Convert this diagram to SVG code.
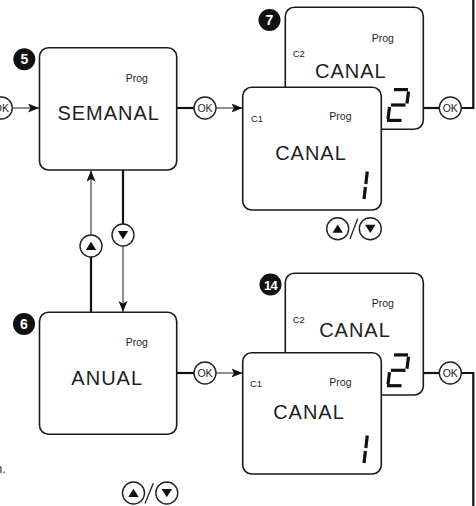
<svg xmlns="http://www.w3.org/2000/svg" xmlns:xlink="http://www.w3.org/1999/xlink" width="476" height="506" viewBox="0 0 476 506">
<style>
.box{fill:#fff;stroke:#1a1a1a;stroke-width:1.6}
.thick{stroke:#111;stroke-width:2.2;fill:none}
.thin{stroke:#333;stroke-width:1.1;fill:none}
.okc{fill:#fff;stroke:#222;stroke-width:1.4}
text{font-family:"Liberation Sans",Arial,sans-serif;fill:#1e1e1e}
.ok{font-size:10.5px;text-anchor:middle}
.big{font-size:20px;letter-spacing:1px;text-anchor:middle}
.prog{font-size:10.5px}
.ch{font-size:9.5px}
.badge{fill:#111}
.bt{font-size:14px;font-weight:bold;fill:#fff;text-anchor:middle}
.seg{stroke:#111;stroke-width:3.2;fill:none}
</style>
<defs>
<marker id="arr" markerUnits="userSpaceOnUse" markerWidth="12" markerHeight="10" refX="11" refY="4.5" orient="auto">
<path d="M0,0 L11,4.5 L0,9 L2.5,4.5 z" fill="#111"/>
</marker>
<g id="up"><circle r="11" class="okc"/><path d="M-5.2,4 L5.2,4 L0,-4.3 z" fill="#111"/></g>
<g id="down"><circle r="11" class="okc"/><path d="M-5.2,-4 L5.2,-4 L0,4.3 z" fill="#111"/></g>
<g id="d2" class="seg">
<line x1="9" y1="1.6" x2="23" y2="1.6"/>
<line x1="23.5" y1="3.5" x2="22" y2="15.5"/>
<line x1="6" y1="17" x2="20.5" y2="17"/>
<line x1="4.5" y1="19" x2="3" y2="31"/>
<line x1="2" y1="32.4" x2="16.5" y2="32.4"/>
</g>
<g id="d1" class="seg">
<line x1="3.5" y1="1" x2="2" y2="13.5"/>
<line x1="1.6" y1="16.5" x2="0.2" y2="28.5"/>
</g>
</defs>

<g id="connectors">
<circle cx="1.3" cy="108" r="11" class="okc"/>
<text x="1.3" y="111.8" class="ok">OK</text>
<line x1="12.3" y1="108" x2="39" y2="108" class="thin" marker-end="url(#arr)"/>
<line x1="177" y1="108" x2="194" y2="108" class="thick"/>
<circle cx="205" cy="108" r="11" class="okc"/>
<text x="205" y="111.8" class="ok">OK</text>
<line x1="216" y1="108" x2="242.5" y2="108" class="thin" marker-end="url(#arr)"/>
<line x1="91" y1="234.5" x2="91" y2="170.5" class="thin" marker-end="url(#arr)"/>
<line x1="91" y1="257" x2="91" y2="312" class="thick"/>
<use xlink:href="#up" x="91" y="246"/>
<line x1="123" y1="170" x2="123" y2="224" class="thick"/>
<line x1="123" y1="246" x2="123" y2="312" class="thin" marker-end="url(#arr)"/>
<use xlink:href="#down" x="123" y="235"/>
<line x1="177" y1="373" x2="194" y2="373" class="thick"/>
<circle cx="205" cy="373" r="11" class="okc"/>
<text x="205" y="376.8" class="ok">OK</text>
<line x1="216" y1="373" x2="242.5" y2="373" class="thin" marker-end="url(#arr)"/>
<polyline points="423,108 439.3,108" class="thick"/>
<polyline points="461.3,108 473.3,108 473.3,0" class="thick"/>
<circle cx="450.3" cy="108" r="11" class="okc"/>
<text x="450.3" y="111.8" class="ok">OK</text>
<polyline points="423,373 439.3,373" class="thick"/>
<polyline points="461.3,373 473.3,373 473.3,506" class="thick"/>
<circle cx="450.3" cy="373" r="11" class="okc"/>
<text x="450.3" y="376.8" class="ok">OK</text>
<use xlink:href="#up" x="337.7" y="228.8"/>
<line x1="350" y1="239" x2="357.7" y2="218.5" stroke="#222" stroke-width="1.3"/>
<use xlink:href="#down" x="370.3" y="228.8"/>
<use xlink:href="#up" x="133.5" y="493"/>
<line x1="145" y1="503.5" x2="153.3" y2="483.3" stroke="#222" stroke-width="1.3"/>
<use xlink:href="#down" x="166.8" y="493"/>
</g>

<g id="semanal">
<rect x="39.5" y="47.8" width="137.2" height="122.2" rx="9" class="box"/>
<text x="125.7" y="82" class="prog">Prog</text>
<text x="108.7" y="120" class="big">SEMANAL</text>
<circle cx="24.3" cy="59.3" r="11" class="badge"/>
<text x="24.3" y="64.3" class="bt">5</text>
</g>

<g id="anual">
<rect x="39.5" y="312.3" width="137.2" height="122" rx="9" class="box"/>
<text x="125.7" y="346" class="prog">Prog</text>
<text x="107.2" y="385" class="big">ANUAL</text>
<circle cx="24" cy="324" r="11" class="badge"/>
<text x="24" y="329" class="bt">6</text>
</g>

<g id="canal2-top">
<rect x="285.3" y="7.3" width="138" height="122" rx="9" class="box"/>
<text x="371.7" y="41.7" class="prog">Prog</text>
<text x="292.7" y="56.7" class="ch">C2</text>
<text x="350.8" y="77.7" class="big">CANAL</text>
<use xlink:href="#d2" x="385" y="88"/>
<circle cx="269.5" cy="20" r="11" class="badge"/>
<text x="269.5" y="25" class="bt">7</text>
</g>

<g id="canal1-top">
<rect x="242.7" y="87.3" width="138.6" height="122.7" rx="9" class="box"/>
<text x="251" y="121.7" class="ch">C1</text>
<text x="329.3" y="120" class="prog">Prog</text>
<text x="311" y="160" class="big">CANAL</text>
<use xlink:href="#d1" x="363.8" y="170.5"/>
</g>

<g id="canal2-bottom">
<rect x="285.3" y="273.3" width="138" height="121.7" rx="9" class="box"/>
<text x="371.7" y="306.7" class="prog">Prog</text>
<text x="292.7" y="322.7" class="ch">C2</text>
<text x="355" y="337.3" class="big">CANAL</text>
<use xlink:href="#d2" x="385" y="353.3"/>
<circle cx="270.5" cy="284.5" r="11" class="badge"/>
<text x="270.5" y="289.5" class="bt" style="font-size:13px;letter-spacing:-0.8px">14</text>
</g>

<g id="canal1-bottom">
<rect x="242.7" y="352.7" width="138.6" height="121.3" rx="9" class="box"/>
<text x="250" y="386.7" class="ch">C1</text>
<text x="329.3" y="386" class="prog">Prog</text>
<text x="309" y="418.5" class="big">CANAL</text>
<use xlink:href="#d1" x="363.8" y="434.5"/>
</g>

<text x="-4.5" y="473" style="font-size:12px">n.</text>
</svg>
